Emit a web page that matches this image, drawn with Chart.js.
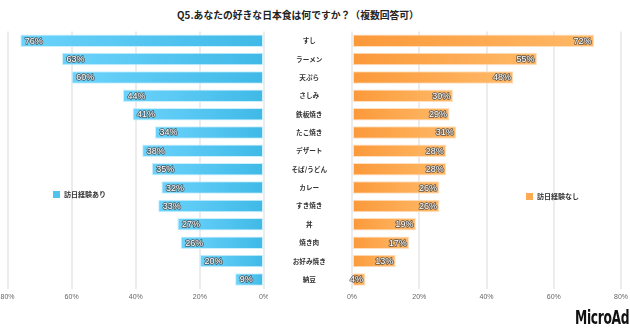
<!DOCTYPE html>
<html>
<head>
<meta charset="utf-8">
<script src="https://cdn.jsdelivr.net/npm/chart.js@4.4.1/dist/chart.umd.min.js"></script>
<style>
  body { margin: 0; background: #fff; width: 630px; height: 330px; position: relative; overflow: hidden; }
  #title { position: absolute; top: 8px; left: 0; width: 596px; text-align: center;
           font: bold 9.8px "Noto Sans CJK JP", sans-serif; color: #222; }
  .wrap { position: absolute; top: 22px; height: 284px; }
  #leftWrap { left: 0; width: 268px; }
  #rightWrap { left: 264px; width: 366px; }
  .legend { position: absolute; font: bold 7px "Noto Sans CJK JP", sans-serif; color: #333; line-height: 7px; white-space: nowrap; }
  .legend i { display: inline-block; width: 7px; height: 7px; margin-right: 4px; vertical-align: top; }
  #logo { position: absolute; left: 575px; top: 306px; font: bold 19px "DejaVu Sans Condensed", sans-serif;
          color: #111; transform: scaleX(0.72); transform-origin: left top; letter-spacing: -0.5px; }
</style>
</head>
<body>
<div id="title">Q5.あなたの好きな日本食は何ですか？（複数回答可）</div>
<div class="wrap" id="leftWrap"><canvas id="leftChart"></canvas></div>
<div class="wrap" id="rightWrap"><canvas id="rightChart"></canvas></div>
<div class="legend" id="legendLeft" style="left:53px;top:191px"></div>
<div class="legend" id="legendRight" style="left:526px;top:193px"></div>
<div id="logo">MicroAd</div>

<script>
// 好きな日本食（複数回答）
const foods = ['すし', 'ラーメン', '天ぷら', 'さしみ', '鉄板焼き', 'たこ焼き', 'デザート',
               'そば/うどん', 'カレー', 'すき焼き', '丼', '焼き肉', 'お好み焼き', '納豆'];
const visitedName = '訪日経験あり';
const visited = [76, 63, 60, 44, 41, 34, 38, 35, 32, 33, 27, 26, 20, 9];
const notVisitedName = '訪日経験なし';
const notVisited = [72, 55, 48, 30, 29, 31, 28, 28, 26, 26, 19, 17, 13, 4];
const axisMax = 80;
const axisStep = 20;

const tickFont = { family: '"Liberation Sans", Arial, sans-serif', size: 7 };
const gridColor = '#ececec';

// gradient along each bar, from its base (0%) to its tip
function barGradient(baseColor, tipColor) {
  return function (ctx) {
    const chart = ctx.chart;
    if (!chart.chartArea || ctx.raw === undefined) return baseColor;
    const xs = chart.scales.x;
    const x0 = xs.getPixelForValue(0);
    const x1 = xs.getPixelForValue(ctx.raw);
    const g = chart.ctx.createLinearGradient(x0, 0, x1 === x0 ? x0 + 1 : x1, 0);
    g.addColorStop(0, baseColor);
    g.addColorStop(1, tipColor);
    return g;
  };
}

// "76%" style labels inside the bar tips
const valueLabels = {
  id: 'valueLabels',
  afterDatasetsDraw(chart, args, opts) {
    const ctx = chart.ctx;
    const data = chart.data.datasets[0].data;
    ctx.save();
    ctx.font = '9px "Liberation Sans", Arial, sans-serif';
    ctx.textBaseline = 'middle';
    ctx.lineJoin = 'round';
    ctx.lineWidth = 1.6;
    ctx.strokeStyle = 'rgba(70,70,70,0.85)';
    ctx.fillStyle = '#fff';
    chart.getDatasetMeta(0).data.forEach(function (bar, i) {
      const txt = data[i] + '%';
      let x;
      if (opts.side === 'left') {
        ctx.textAlign = 'left';
        x = bar.x + 4.5;
      } else {
        ctx.textAlign = 'right';
        x = bar.x - 2.5;
      }
      ctx.strokeText(txt, x, bar.y + 0.5);
      ctx.fillText(txt, x, bar.y + 0.5);
    });
    ctx.restore();
  }
};

// percent axis; side paddings are fixed so both halves line up
function xScale(reverse, padLeft, padRight) {
  return {
    min: 0,
    max: axisMax,
    reverse: reverse,
    grid: { color: gridColor, drawTicks: false, lineWidth: 2 },
    border: { display: false },
    afterFit: function (scale) {
      scale.paddingLeft = padLeft;
      scale.paddingRight = padRight;
    },
    ticks: {
      stepSize: axisStep,
      padding: 4,
      color: '#666',
      font: tickFont,
      callback: function (v) { return v + '%'; }
    }
  };
}

new Chart(document.getElementById('leftChart'), {
  type: 'bar',
  data: {
    labels: foods,
    datasets: [{
      label: visitedName,
      data: visited,
      backgroundColor: barGradient('#3fb9e7', '#6bd3fb'),
      borderColor: 'rgba(200,238,253,0.9)',
      borderWidth: 1,
      borderSkipped: false,
      barPercentage: 0.68,
      categoryPercentage: 1
    }]
  },
  options: {
    indexAxis: 'y',
    responsive: true,
    maintainAspectRatio: false,
    animation: false,
    layout: { padding: { top: 9.5, bottom: 1, left: 0, right: 0 } },
    scales: {
      x: xScale(true, 7.5, 4),
      y: { display: false }
    },
    plugins: {
      legend: { display: false },
      tooltip: { enabled: false },
      valueLabels: { side: 'left' }
    }
  },
  plugins: [valueLabels]
});

new Chart(document.getElementById('rightChart'), {
  type: 'bar',
  data: {
    labels: foods,
    datasets: [{
      label: notVisitedName,
      data: notVisited,
      backgroundColor: barGradient('#fb993a', '#ffb967'),
      borderColor: 'rgba(255,222,186,0.9)',
      borderWidth: 1,
      borderSkipped: false,
      barPercentage: 0.68,
      categoryPercentage: 1
    }]
  },
  options: {
    indexAxis: 'y',
    responsive: true,
    maintainAspectRatio: false,
    animation: false,
    layout: { padding: { top: 9.5, bottom: 1, left: 0, right: 0 } },
    scales: {
      x: xScale(false, 0, 9),
      y: {
        grid: { display: false },
        border: { display: false },
        // fixed-width label column between the two halves
        afterFit: function (scale) {
          scale.width = 88;
          scale.paddingTop = 0;
          scale.paddingBottom = 0;
        },
        ticks: {
          crossAlign: 'center',
          padding: 17,
          color: '#333',
          font: { family: '"Noto Sans CJK JP", sans-serif', size: 6.6, weight: 'bold' }
        }
      }
    },
    plugins: {
      legend: { display: false },
      tooltip: { enabled: false },
      valueLabels: { side: 'right' }
    }
  },
  plugins: [valueLabels]
});

// legends placed beside the bars
function fillLegend(id, name, color) {
  document.getElementById(id).innerHTML = '<i style="background:' + color + '"></i>' + name;
}
fillLegend('legendLeft', visitedName, '#4fc4ef');
fillLegend('legendRight', notVisitedName, '#fdaa52');
</script>
</body>
</html>
